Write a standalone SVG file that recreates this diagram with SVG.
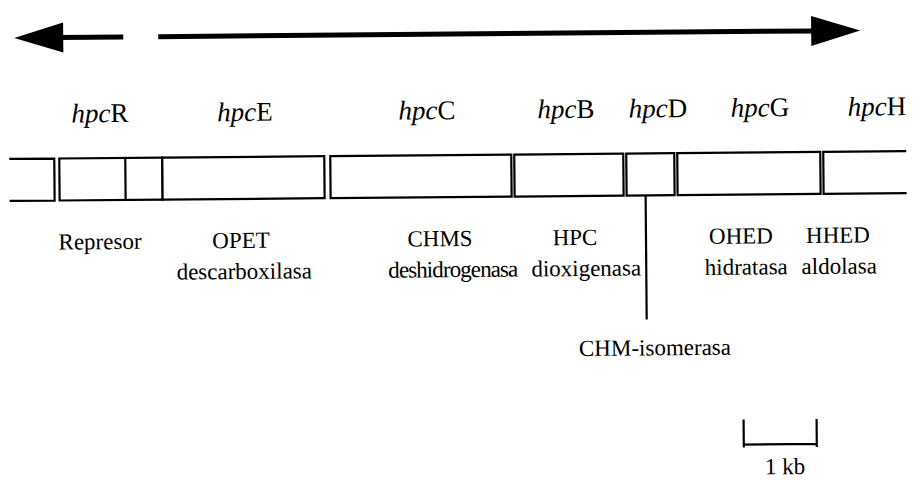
<svg xmlns="http://www.w3.org/2000/svg" width="924" height="480" viewBox="0 0 924 480">
  <style>
    .bg { fill: #ffffff; }
    .box { fill: #ffffff; stroke: #000000; stroke-width: 2.2; }
    .edge { fill: none; stroke: #000000; stroke-width: 2.2; }
    .arrow { fill: none; stroke: #000000; stroke-width: 5; }
    .head { fill: #000000; stroke: none; }
    .gene { font-family: "Liberation Serif", "Times New Roman", serif; font-size: 27px; fill: #000000; text-anchor: middle; }
    .gene tspan.it { font-style: italic; }
    .lab { font-family: "Liberation Serif", "Times New Roman", serif; font-size: 23px; fill: #000000; text-anchor: middle; }
    .line { fill: none; stroke: #000000; stroke-width: 2.2; }
  </style>
  <rect class="bg" x="0" y="0" width="924" height="480"/>
  <g transform="rotate(-0.5 462 240)">
    <g id="transcription-arrows">
      <line class="arrow" x1="60" y1="34" x2="125" y2="34"/>
      <polygon class="head" points="16,34 65,19 65,49"/>
      <line class="arrow" x1="160" y1="34" x2="818" y2="34"/>
      <polygon class="head" points="862,34 813,19 813,49"/>
    </g>

    <g id="upstream">
      <path class="edge" d="M10,155 H55 V197 H10"/>
    </g>
    <g id="hpcR">
      <rect class="box" x="60" y="155" width="103" height="42"/>
      <line class="edge" x1="126" y1="155" x2="126" y2="197"/>
      <text class="gene" x="101" y="119"><tspan class="it">hpc</tspan>R</text>
      <text class="lab" x="100" y="246">Represor</text>
    </g>
    <g id="hpcE">
      <rect class="box" x="163" y="155" width="162" height="42"/>
      <text class="gene" x="246" y="119"><tspan class="it">hpc</tspan>E</text>
      <text class="lab" x="241" y="246">OPET</text>
      <text class="lab" x="244" y="277">descarboxilasa</text>
    </g>
    <g id="hpcC">
      <rect class="box" x="331" y="155" width="181" height="42"/>
      <text class="gene" x="428" y="119"><tspan class="it">hpc</tspan>C</text>
      <text class="lab" x="440" y="246">CHMS</text>
      <text class="lab" x="453" y="277" textLength="130" lengthAdjust="spacing">deshidrogenasa</text>
    </g>
    <g id="hpcB">
      <rect class="box" x="515" y="155" width="109" height="42"/>
      <text class="gene" x="567" y="119"><tspan class="it">hpc</tspan>B</text>
      <text class="lab" x="575" y="246">HPC</text>
      <text class="lab" x="586" y="277">dioxigenasa</text>
    </g>
    <g id="hpcD">
      <rect class="box" x="627" y="155" width="48" height="42"/>
      <text class="gene" x="659" y="119"><tspan class="it">hpc</tspan>D</text>
      <text class="lab" x="654" y="357">CHM-isomerasa</text>
    </g>
    <g id="hpcG">
      <rect class="box" x="678" y="155" width="143" height="42"/>
      <text class="gene" x="761" y="119"><tspan class="it">hpc</tspan>G</text>
      <text class="lab" x="741" y="246">OHED</text>
      <text class="lab" x="746" y="277">hidratasa</text>
    </g>
    <g id="hpcH">
      <path class="edge" d="M907,155 H824 V197 H907"/>
      <text class="gene" x="878" y="119"><tspan class="it">hpc</tspan>H</text>
      <text class="lab" x="838" y="246">HHED</text>
      <text class="lab" x="839" y="277">aldolasa</text>
    </g>

    <g id="connectors">
      <line class="line" x1="646" y1="197" x2="646" y2="321"/>
    </g>

    <g id="scale-bar">
      <path class="line" d="M742,422 V450 M815,422 V450 M742,447 H815"/>
      <text class="lab" x="783" y="477">1 kb</text>
    </g>
  </g>
</svg>
